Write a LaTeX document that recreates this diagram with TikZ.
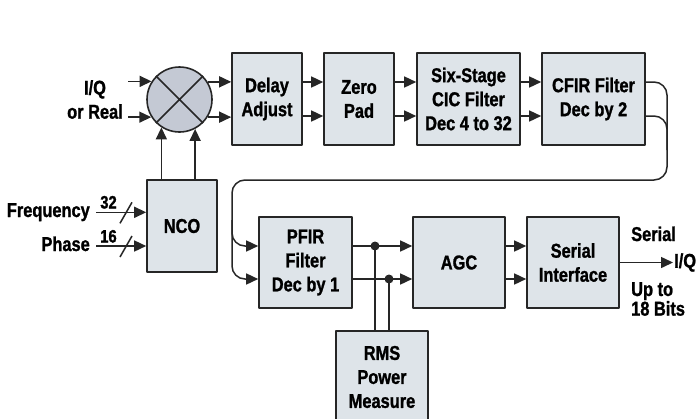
\documentclass[tikz,border=0pt]{standalone}
\usepackage{fontspec}
\setmainfont{Liberation Sans}[FakeStretch=0.82,FakeBold=1.2]
\usetikzlibrary{arrows.meta,calc}
\definecolor{boxfill}{HTML}{DEE4E9}
\definecolor{mixfill}{HTML}{C4C9D4}
\definecolor{linegray}{HTML}{262626}
\tikzset{
  every picture/.style={line join=round, >={Triangle[length=12pt,width=11pt]}},
  blk/.style={draw=linegray, fill=boxfill, line width=1.6pt, align=center, inner sep=0pt,
    font=\bfseries\fontsize{20}{24}\selectfont},
  lbl/.style={align=center, inner sep=1pt, font=\bfseries\fontsize{20}{24}\selectfont},
  wire/.style={draw=linegray, line width=1.5pt},
}

\begin{document}
\begin{tikzpicture}[x=1pt,y=-1pt]
\useasboundingbox (0,0) rectangle (698,418);
\clip (0,0) rectangle (698,418);
% mixer and blocks
\node[circle,draw=linegray,fill=mixfill,line width=1.6pt,minimum size=65pt,inner sep=0pt](mix) at (179.5,99.5){};
\draw[wire] (mix.45)--(mix.225) (mix.135)--(mix.315);
\node[blk,minimum width=70pt,minimum height=92pt](dly) at (267,99){Delay\\Adjust};
\node[blk,minimum width=70pt,minimum height=92pt](zpad) at (359,99){Zero\\Pad};
\node[blk,minimum width=103pt,minimum height=92pt](cic) at (468.5,99){Six-Stage\\CIC Filter\\Dec 4 to 32};
\node[blk,minimum width=103pt,minimum height=92pt](cfir) at (593.5,99){CFIR Filter\\Dec by 2};
\node[blk,minimum width=70pt,minimum height=92pt](nco) at (182,226){NCO};
\node[blk,minimum width=93pt,minimum height=91pt](pfir) at (305.5,262.5){PFIR\\Filter\\Dec by 1};
\node[blk,minimum width=92pt,minimum height=91pt](agc) at (459,262.5){AGC};
\node[blk,minimum width=92pt,minimum height=91pt](ser) at (573,262.5){Serial\\Interface};
\node[blk,minimum width=92pt,minimum height=92pt](rms) at (382,377){RMS\\Power\\Measure};
% inputs
\node[lbl,anchor=east](iq) at (124,99.5){I/Q\\or Real};
\coordinate (iqin) at (128,99.5);
\draw[wire,->] (iqin |- mix.147.4)--(mix.147.4);
\draw[wire,->] (iqin |- mix.212.6)--(mix.212.6);
\draw[wire,->] (mix.32.6)--(mix.32.6 -| dly.west);
\draw[wire,->] (mix.-32.6)--(mix.-32.6 -| dly.west);
\draw[wire,->] (mix.237.4 |- nco.north)--(mix.237.4);
\draw[wire,->] (mix.298.5 |- nco.north)--(mix.298.5);
\node[lbl,anchor=base east](freq) at (91,217){Frequency};
\node[lbl,anchor=base east](phase) at (91,251){Phase};
\node[lbl,anchor=base,font=\bfseries\fontsize{18}{20}\selectfont](fbits) at (108.5,208.5){32};
\node[lbl,anchor=base,font=\bfseries\fontsize{18}{20}\selectfont](pbits) at (108.5,242.5){16};
\coordinate (fin) at (96,212.3);
\coordinate (pin) at (96,246);
\draw[wire,->] (fin)--(fin -| nco.west);
\draw[wire,->] (pin)--(pin -| nco.west);
\draw[wire] ($(fin)+(24,11)$)--++(12,-21);
\draw[wire] ($(pin)+(24,11)$)--++(12,-21);
% top row
\foreach \a/\b in {dly/zpad,zpad/cic,cic/cfir}{
  \draw[wire,->] ([yshift=17]\a.east)--([yshift=17]\b.west);
  \draw[wire,->] ([yshift=-17]\a.east)--([yshift=-17]\b.west);
}
% return bus
\coordinate (busR) at (667,180);
\coordinate (busL) at (232,180);
\draw[wire,->,rounded corners=13] ([yshift=17]cfir.east) -| (busR) -- (busL) |- ([yshift=16.5]pfir.west);
\draw[wire,rounded corners=13] ([yshift=-17]cfir.east) -| ($(busR)+(0,-30)$);
\draw[wire,->,rounded corners=13] ($(busL)+(0,40)$) |- ([yshift=-16.5]pfir.west);
% bottom row
\foreach \a/\b in {pfir/agc,agc/ser}{
  \draw[wire,->] ([yshift=16.5]\a.east)--([yshift=16.5]\b.west);
  \draw[wire,->] ([yshift=-16.5]\a.east)--([yshift=-16.5]\b.west);
}
\coordinate (ja) at (375,246);
\coordinate (jb) at (389,279);
\draw[wire] (ja)--(ja |- rms.north);
\draw[wire] (jb)--(jb |- rms.north);
\fill[linegray] (ja) circle (4.5) (jb) circle (4.5);
% output
\node[lbl,anchor=west](iqout) at (673,262.5){I/Q};
\draw[wire,->] (ser.east)--(iqout.west);
\node[lbl,anchor=base west](sertxt) at (630,241){Serial};
\node[lbl,anchor=north west,align=left,font=\bfseries\fontsize{20}{18}\selectfont](bits) at (630,281){Up to\\18 Bits};
\end{tikzpicture}
\end{document}
